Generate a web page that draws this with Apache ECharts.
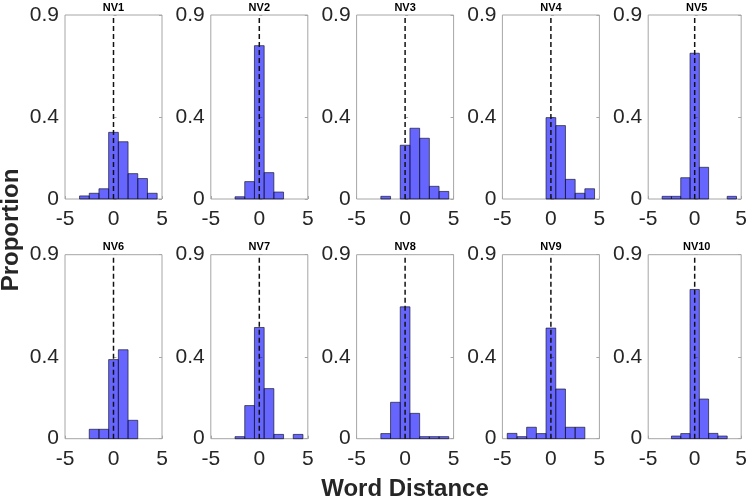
<!DOCTYPE html>
<html>
<head>
<meta charset="utf-8">
<script src="https://cdn.jsdelivr.net/npm/echarts@6/dist/echarts.min.js"></script>
<style>
  html, body { margin: 0; padding: 0; background: #fff; }
  #chart { width: 750px; height: 499px; }
</style>
</head>
<body>
<div id="chart"></div>
<script>
// bin centres (word distance), one bar per integer
const binCenters = [-4, -3, -2, -1, 0, 1, 2, 3, 4]
const panelNames = ['NV1', 'NV2', 'NV3', 'NV4', 'NV5', 'NV6', 'NV7', 'NV8', 'NV9', 'NV10']

const nv1 = [0, 0.015, 0.028, 0.05, 0.326, 0.28, 0.124, 0.10, 0.028]
const nv2 = [0, 0, 0.011, 0.085, 0.75, 0.129, 0.034, 0, 0]
const nv3 = [0, 0, 0.013, 0, 0.263, 0.346, 0.297, 0.062, 0.037]
const nv4 = [0, 0, 0, 0, 0.398, 0.359, 0.096, 0.028, 0.05]
const nv5 = [0, 0.013, 0.013, 0.104, 0.713, 0.155, 0, 0, 0.013]
const nv6 = [0, 0, 0.046, 0.046, 0.387, 0.435, 0.09, 0, 0]
const nv7 = [0, 0, 0.01, 0.162, 0.544, 0.245, 0.021, 0, 0.021]
const nv8 = [0, 0, 0.025, 0.178, 0.645, 0.124, 0.01, 0.01, 0.01]
const nv9 = [0.026, 0.01, 0.056, 0.025, 0.541, 0.243, 0.056, 0.056, 0]
const nv10 = [0, 0, 0.013, 0.025, 0.73, 0.194, 0.026, 0.013, 0]
const panels = [nv1, nv2, nv3, nv4, nv5, nv6, nv7, nv8, nv9, nv10]

const yTicks = [0, 0.4, 0.9]

const chart = echarts.init(document.getElementById('chart'))

const FONT = '"Liberation Sans", Arial, sans-serif'
const grids = [], xAxes = [], yAxes = [], series = [], graphics = []

panels.forEach((vals, i) => {
  const col = i % 5
  const row = Math.floor(i / 5)
  const left = 65 + col * 145.8
  const top = row === 0 ? 15 : 254.7
  grids.push({
    left, top, width: 97, height: 184,
    show: true, borderColor: '#a6a6a6', borderWidth: 1, backgroundColor: 'transparent'
  })
  xAxes.push({
    type: 'value', gridIndex: i, min: -5, max: 5, interval: 5,
    axisLine: { show: false },
    axisTick: { show: true, inside: true, length: 3, lineStyle: { color: '#a6a6a6' } },
    splitLine: { show: false },
    axisLabel: { fontSize: 21, color: '#262626', fontFamily: FONT, margin: 10 }
  })
  yAxes.push({
    type: 'value', gridIndex: i, min: 0, max: 0.9,
    axisLine: { show: false },
    axisTick: { show: true, inside: true, length: 3, customValues: yTicks, lineStyle: { color: '#a6a6a6' } },
    splitLine: { show: false },
    axisLabel: {
      fontSize: 21, color: '#262626', fontFamily: FONT, margin: 6,
      customValues: yTicks,
      formatter: v => (v === 0 ? '0' : String(v))
    }
  })
  yAxes.push({
    type: 'value', gridIndex: i, min: 0, max: 0.9, position: 'right',
    axisLine: { show: false },
    axisTick: { show: true, inside: true, length: 3, customValues: yTicks, lineStyle: { color: '#a6a6a6' } },
    splitLine: { show: false },
    axisLabel: { show: false }
  })
  series.push({
    type: 'custom',
    xAxisIndex: i,
    yAxisIndex: i * 2,
    data: binCenters.map((x, k) => [x, vals[k]]),
    encode: { x: 0, y: 1 },
    renderItem(params, api) {
      const x = api.value(0)
      const y = api.value(1)
      if (!y) return null
      const p0 = api.coord([x - 0.5, y])
      const p1 = api.coord([x + 0.5, 0])
      return {
        type: 'rect',
        shape: { x: p0[0], y: p0[1], width: p1[0] - p0[0], height: p1[1] - p0[1] },
        style: { fill: 'rgba(0,0,255,0.6)', stroke: 'rgba(20,20,40,0.85)', lineWidth: 0.8 }
      }
    },
    z: 2
  })
  series.push({
    type: 'line',
    xAxisIndex: i,
    yAxisIndex: i * 2,
    data: [[0, 0], [0, 0.9]],
    symbol: 'none',
    silent: true,
    lineStyle: { color: '#111', width: 1.5, type: [5, 3] },
    z: 3
  })
  graphics.push({
    type: 'text',
    x: left + 48.5,
    y: row === 0 ? 8 : 247,
    style: {
      text: panelNames[i], fontSize: 11, fontWeight: 'bold', fontFamily: FONT,
      fill: '#000', textAlign: 'center', textVerticalAlign: 'middle'
    }
  })
})

graphics.push({
  type: 'text', x: 11, y: 230, rotation: Math.PI / 2,
  style: {
    text: 'Proportion', fontSize: 24, fontWeight: 'bold', fontFamily: FONT,
    fill: '#262626', textAlign: 'center', textVerticalAlign: 'middle'
  }
})
graphics.push({
  type: 'text', x: 405, y: 489,
  style: {
    text: 'Word Distance', fontSize: 24, fontWeight: 'bold', fontFamily: FONT,
    fill: '#262626', textAlign: 'center', textVerticalAlign: 'middle'
  }
})

chart.setOption({
  animation: false,
  grid: grids,
  xAxis: xAxes,
  yAxis: yAxes,
  series,
  graphic: graphics
})
</script>
</body>
</html>
